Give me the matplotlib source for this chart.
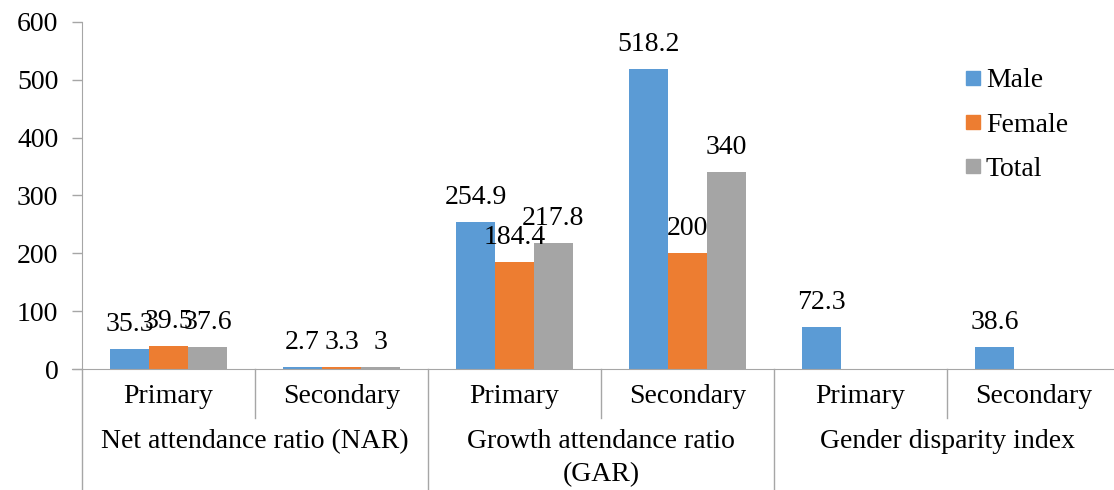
import numpy as np
import matplotlib
matplotlib.use('Agg')
from matplotlib import pyplot as plt
from matplotlib.lines import Line2D
import matplotlib.transforms as mtransforms

plt.rcParams['font.family'] = ['Liberation Serif', 'DejaVu Serif']

# data
sub_labels = ['Primary', 'Secondary', 'Primary', 'Secondary', 'Primary', 'Secondary']
group_labels = [['Net attendance ratio (NAR)'], ['Growth attendance ratio', '(GAR)'], ['Gender disparity index']]
series = ['Male', 'Female', 'Total']
male = [35.3, 2.7, 254.9, 518.2, 72.3, 38.6]
female = [39.5, 3.3, 184.4, 200, np.nan, np.nan]
total = [37.6, 3, 217.8, 340, np.nan, np.nan]
colors = ['#5B9BD5', '#ED7D31', '#A5A5A5']

fs = 20
fig = plt.figure(figsize=(11.14, 4.9), dpi=100)
ax = fig.add_axes([82/1114, 121/490, 1038/1114, 347/490])

x = np.arange(len(sub_labels))
w = 0.225
for i, (vals, c) in enumerate(zip([male, female, total], colors)):
    xs = x + (i - 1) * w
    ax.bar(xs, vals, width=w, color=c, label=series[i])
    for xi, v in zip(xs, vals):
        if not np.isnan(v):
            ax.annotate(f'{v:g}', (xi, v), xytext=(0, 13), textcoords='offset points',
                        ha='center', va='baseline', fontsize=fs)

ax.set_xlim(-0.5, len(sub_labels) - 0.5)
ax.set_ylim(0, 600)
ax.set_yticks(range(0, 601, 100))
ax.tick_params(axis='y', labelsize=fs, length=7, width=1, color='#A6A6A6', pad=10, direction='out')
ax.set_xticks([])
for s in ['top', 'right']:
    ax.spines[s].set_visible(False)
ax.spines['left'].set_color('#A6A6A6')
ax.spines['bottom'].set_color('#A6A6A6')
ax.spines['bottom'].set_bounds(-0.5 - 10/173, len(sub_labels) - 0.5)

# multi-level category axis
trans = mtransforms.blended_transform_factory(ax.transData, ax.transAxes)
for xi, lab in zip(x, sub_labels):
    ax.text(xi, -34/347, lab, transform=trans, ha='center', va='baseline', fontsize=fs)
for k in range(len(sub_labels) + 1):
    xb = k - 0.5
    y1 = -121/347 if k % 2 == 0 else -49/347
    ax.add_line(Line2D([xb, xb], [0, y1], transform=trans, color='#A6A6A6', lw=1, clip_on=False))
for g, lines in enumerate(group_labels):
    for j, line in enumerate(lines):
        ax.text(2*g + 0.5, -(79 + 33*j)/347, line, transform=trans, ha='center', va='baseline', fontsize=fs)

handles = [Line2D([], [], marker='s', linestyle='none', color=c, markersize=9.5) for c in colors]
ax.legend(handles, series, loc='upper left', bbox_to_anchor=(951/1114, 1 - 54/490), bbox_transform=fig.transFigure,
          frameon=False, fontsize=fs, handlelength=0.55, handletextpad=0.2, labelspacing=0.68, borderpad=0)

fig.savefig('out.png', dpi=100)
